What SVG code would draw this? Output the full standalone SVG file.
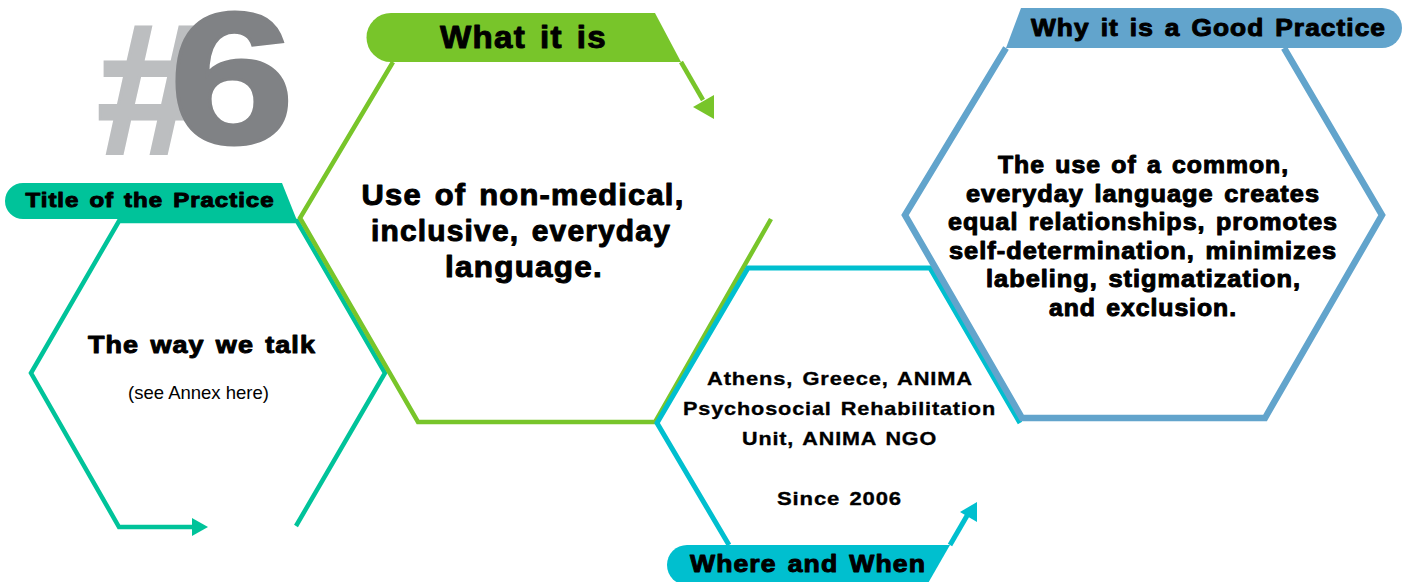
<svg xmlns="http://www.w3.org/2000/svg" width="1406" height="582" viewBox="0 0 1406 582">
  <style>
    .edge { fill: none; stroke-linejoin: miter; stroke-linecap: butt; }
    .teal { stroke: #00C39A; stroke-width: 4.5; }
    .green { stroke: #78C52A; stroke-width: 4.5; }
    .cyan { stroke: #00BFCF; stroke-width: 5; }
    .blue { stroke: #62A4CC; stroke-width: 6.5; }
    .heavy { font-family: "Liberation Sans", Arial, sans-serif; font-weight: bold; fill: #000; stroke: #000; stroke-width: 1; stroke-linejoin: round; text-anchor: middle; letter-spacing: 0.04em; word-spacing: 0.1em; }
    .small { stroke-width: 0.35; }
    .plain { font-family: "Liberation Sans", Arial, sans-serif; fill: #000; text-anchor: middle; }
    .num { font-family: "Liberation Sans", Arial, sans-serif; font-weight: bold; }
  </style>

  <rect width="1406" height="582" fill="#fff"/>

  <!-- big practice number -->
  <g id="practice-number">
    <text class="num" transform="translate(97,154) scale(1.05,1)" font-size="186" fill="#BCBEC0" stroke="#BCBEC0" stroke-width="3">#</text>
    <text class="num" transform="translate(169,143) scale(1.2,1)" font-size="188" fill="#808285" stroke="#808285" stroke-width="3">6</text>
  </g>

  <!-- hexagon 1: title -->
  <g id="node-title">
    <path class="edge teal" d="M296,526 L385,373 L297,221 L119,221 L31,373 L119,527 L194,527"/>
    <path d="M282,183 H23 A18,18 0 0 0 23,219 H119 V223 H298 Z" fill="#00C39A"/>
    <text class="heavy" x="150" y="207" font-size="21" stroke-width="0.8" textLength="249" lengthAdjust="spacingAndGlyphs">Title of the Practice</text>
    <text class="heavy" x="202" y="353" font-size="24.5" stroke-width="0.9" textLength="228" lengthAdjust="spacingAndGlyphs">The way we talk</text>
    <text class="plain" x="198.5" y="399" font-size="18.5">(see Annex here)</text>
  </g>

  <!-- hexagon 2: what it is -->
  <g id="node-what">
    <path class="edge green" d="M393,62 L300,218 L418,422 L655,422 L771,219"/>
    <path d="M655,13 H391 A24.5,24.5 0 0 0 391,62 H681 Z" fill="#78C52A"/>
    <text class="heavy" x="523.5" y="48" font-size="32" stroke-width="1.3" textLength="167" lengthAdjust="spacingAndGlyphs">What it is</text>
    <text class="heavy" x="523" y="205" font-size="30" stroke-width="1.3" textLength="323" lengthAdjust="spacingAndGlyphs">Use of non-medical,</text>
    <text class="heavy" x="521" y="241" font-size="30" stroke-width="1.3" textLength="300" lengthAdjust="spacingAndGlyphs">inclusive, everyday</text>
    <text class="heavy" x="524" y="277" font-size="30" stroke-width="1.3" textLength="158" lengthAdjust="spacingAndGlyphs">language.</text>
  </g>

  <!-- hexagon 3: where and when -->
  <g id="node-where">
    <path class="edge cyan" d="M729,545 L657,423 L748,268 L930,268 L1020,423"/>
    <path d="M950,545 H687 A20,20 0 0 0 687,585 H927 Z" fill="#00BFCF"/>
    <text class="heavy" x="808" y="572" font-size="24.5" stroke-width="1" textLength="236" lengthAdjust="spacingAndGlyphs">Where and When</text>
    <text class="heavy small" x="840" y="385" font-size="19" textLength="266" lengthAdjust="spacingAndGlyphs">Athens, Greece, ANIMA</text>
    <text class="heavy small" x="839.5" y="415" font-size="19" textLength="313" lengthAdjust="spacingAndGlyphs">Psychosocial Rehabilitation</text>
    <text class="heavy small" x="839.5" y="445" font-size="19" textLength="195" lengthAdjust="spacingAndGlyphs">Unit, ANIMA NGO</text>
    <text class="heavy small" x="839.5" y="505" font-size="19" textLength="125" lengthAdjust="spacingAndGlyphs">Since 2006</text>
  </g>

  <!-- hexagon 4: why it is a good practice -->
  <g id="node-why">
    <path class="edge blue" d="M1006,48 L905,215 L1022,418 L1265,418 L1382,215 L1284,48"/>
    <path d="M1021,8 H1382 A20,20 0 0 1 1382,48 H1006 Z" fill="#62A4CC"/>
    <text class="heavy" x="1208.5" y="36" font-size="24.5" textLength="355" lengthAdjust="spacingAndGlyphs">Why it is a Good Practice</text>
    <text class="heavy" x="1143.5" y="173" font-size="23.5" textLength="291" lengthAdjust="spacingAndGlyphs">The use of a common,</text>
    <text class="heavy" x="1143" y="201.5" font-size="23.5" textLength="354" lengthAdjust="spacingAndGlyphs">everyday language creates</text>
    <text class="heavy" x="1143" y="230" font-size="23.5" textLength="390" lengthAdjust="spacingAndGlyphs">equal relationships, promotes</text>
    <text class="heavy" x="1143" y="258.5" font-size="23.5" textLength="388" lengthAdjust="spacingAndGlyphs">self-determination, minimizes</text>
    <text class="heavy" x="1143.5" y="287" font-size="23.5" textLength="315" lengthAdjust="spacingAndGlyphs">labeling, stigmatization,</text>
    <text class="heavy" x="1143" y="316" font-size="23.5" textLength="188" lengthAdjust="spacingAndGlyphs">and exclusion.</text>
  </g>

  <!-- arrow tails and heads between the sections -->
  <g id="connectors">
    <polygon points="192,518 192,536 208,527" fill="#00C39A"/>
    <path class="edge green" d="M681,62 L703,100"/>
    <polygon points="693,107 714,95 714,119" fill="#78C52A"/>
    <path class="edge cyan" d="M950,545 L968,514"/>
    <polygon points="960,512 977,502 977,522" fill="#00BFCF"/>
  </g>
</svg>
